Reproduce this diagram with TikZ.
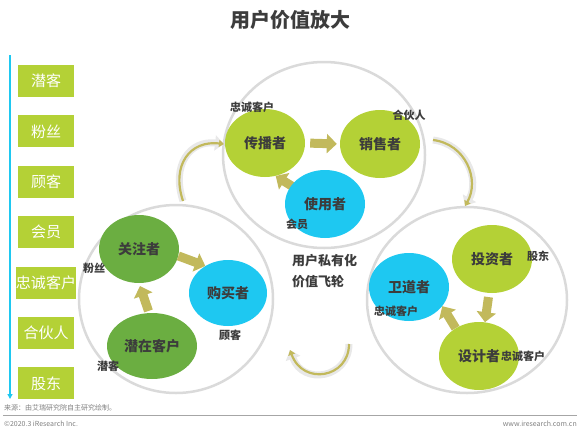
\documentclass[tikz,border=0pt]{standalone}
\usepackage{fontspec}
\setmainfont{Noto Sans CJK SC}
\usepackage{xcolor}
\usetikzlibrary{arrows.meta,shapes.geometric}

\definecolor{hellgruen}{HTML}{B4D136}
\definecolor{dunkelgruen}{HTML}{6BAE41}
\definecolor{cyanblau}{HTML}{1EC8F1}
\definecolor{kreisgrau}{HTML}{DADADA}
\definecolor{gold}{HTML}{C2B95C}
\definecolor{textgrau}{HTML}{3C3C3C}

\tikzset{
  stufe/.style={fill=hellgruen, text=white, minimum width=56pt, minimum height=32pt,
    inner sep=0pt, font=\fontsize{15}{15}\selectfont},
  rolle/.style={ellipse, minimum width=80pt, minimum height=68pt, inner sep=0pt,
    text=textgrau, font=\bfseries\fontsize{14}{14}\selectfont},
  etikett/.style={text=textgrau, inner sep=0pt, font=\bfseries\fontsize{11}{11}\selectfont},
  pfeil/.style={line width=9pt, draw=gold, -{Triangle[width=19pt,length=10pt]}},
  bogen/.style={line width=2.2pt, draw=gold, -{Triangle[width=7pt,length=5pt]},
    preaction={draw=gray!18, line width=7pt, -{Triangle[width=15pt,length=9pt]}}}
}

\begin{document}
\begin{tikzpicture}[x=1pt, y=-1pt]
  \useasboundingbox (0,0) rectangle (580,434);
  % Titel
  \node[text=textgrau, font=\bfseries\fontsize{20}{20}\selectfont] (titel) at (290,20) {用户价值放大};
  % Stufen links
  \coordinate (oben) at (10,55);
  \coordinate (unten) at (10,399);
  \draw[cyanblau, line width=1.2pt, -{Triangle[width=5pt,length=5pt]}] (oben) -- (unten);
  \foreach \name [count=\i] in {潜客,粉丝,顾客,会员,忠诚客户,合伙人,股东}
    \node[stufe] (s\i) at (46, {81+50.4*(\i-1)}) {\name};
  % grosse Kreise
  \draw[kreisgrau, line width=2.5pt] (324,155) ellipse (101 and 93);
  \draw[kreisgrau, line width=2.5pt] (176,299) ellipse (97 and 94);
  \draw[kreisgrau, line width=2.5pt] (467,300) ellipse (100 and 93);
  % Bogenpfeile
  \draw[bogen] (183,201) .. controls (171,165) and (190,140) .. (224,144);
  \draw[bogen] (433,140) .. controls (466,144) and (480,180) .. (465,206);
  \draw[bogen] (349,344) .. controls (349,378) and (303,386) .. (290,350);
  % Rollen oben
  \node[rolle, fill=hellgruen] (cbz) at (265,143) {传播者};
  \node[rolle, fill=hellgruen] (xsz) at (380,144) {销售者};
  \coordinate (syc) at (325,204);
  \coordinate (syfuss) at (314,200);
  % Rollen links
  \node[rolle, fill=dunkelgruen] (gzz) at (139,249) {关注者};
  \node[rolle, fill=cyanblau, minimum width=78pt, minimum height=66pt] (gmz) at (228,293) {购买者};
  \node[rolle, fill=dunkelgruen, minimum width=90pt, minimum height=66pt] (qzz) at (152,346) {潜在客户};
  % Rollen rechts
  \node[rolle, fill=hellgruen] (tzz) at (492,259) {投资者};
  \node[rolle, fill=cyanblau] (wdz) at (409,287) {卫道者};
  \node[rolle, fill=hellgruen] (sjz) at (479,356) {设计者};
  % Pfeile
  \draw[pfeil, shorten <=5pt, shorten >=3pt] (cbz.east) -- (xsz.west);
  \draw[pfeil] (syfuss) -- (cbz.-72);
  \draw[pfeil] (gzz.-10) -- (gmz.130);
  \draw[pfeil, shorten <=2pt, shorten >=3pt] (qzz.95) -- (gzz.-90);
  \draw[pfeil, shorten <=4pt] (tzz.-95) -- (sjz.80);
  \draw[pfeil] (sjz.130) -- (wdz.-30);
  \node[rolle, fill=cyanblau] (syz) at (syc) {使用者};
  % Beschriftungen
  \node[etikett] (l1) at (252,107) {忠诚客户};
  \node[etikett] (l2) at (409,115) {合伙人};
  \node[etikett] (l3) at (297,224) {会员};
  \node[etikett] (l4) at (94,268) {粉丝};
  \node[etikett] (l5) at (230,335) {顾客};
  \node[etikett] (l6) at (108,366) {潜客};
  \node[etikett] (l7) at (538,256) {股东};
  \node[etikett] (l8) at (396,311) {忠诚客户};
  \node[etikett] (l9) at (523,356) {忠诚客户};
  % Mitte
  \node[text=textgrau, anchor=west, align=left, inner sep=0pt,
    font=\bfseries\fontsize{13}{21}\selectfont] (mitte) at (292,271) {用户私有化\\价值飞轮};
  % Fusszeile
  \node[anchor=west, inner sep=0pt, text=gray, font=\fontsize{7}{7}\selectfont] (quelle) at (4,408) {来源：由艾瑞研究院自主研究绘制。};
  \draw[gray!70, line width=1pt] (3,415) -- (577,415);
  \node[anchor=west, inner sep=0pt, text=gray, font=\fontsize{7}{7}\selectfont] (copy) at (4,424) {©2020.3 iResearch Inc.};
  \node[anchor=east, inner sep=0pt, text=gray, font=\fontsize{7}{7}\selectfont] (web) at (577,424) {www.iresearch.com.cn};
\end{tikzpicture}
\end{document}
